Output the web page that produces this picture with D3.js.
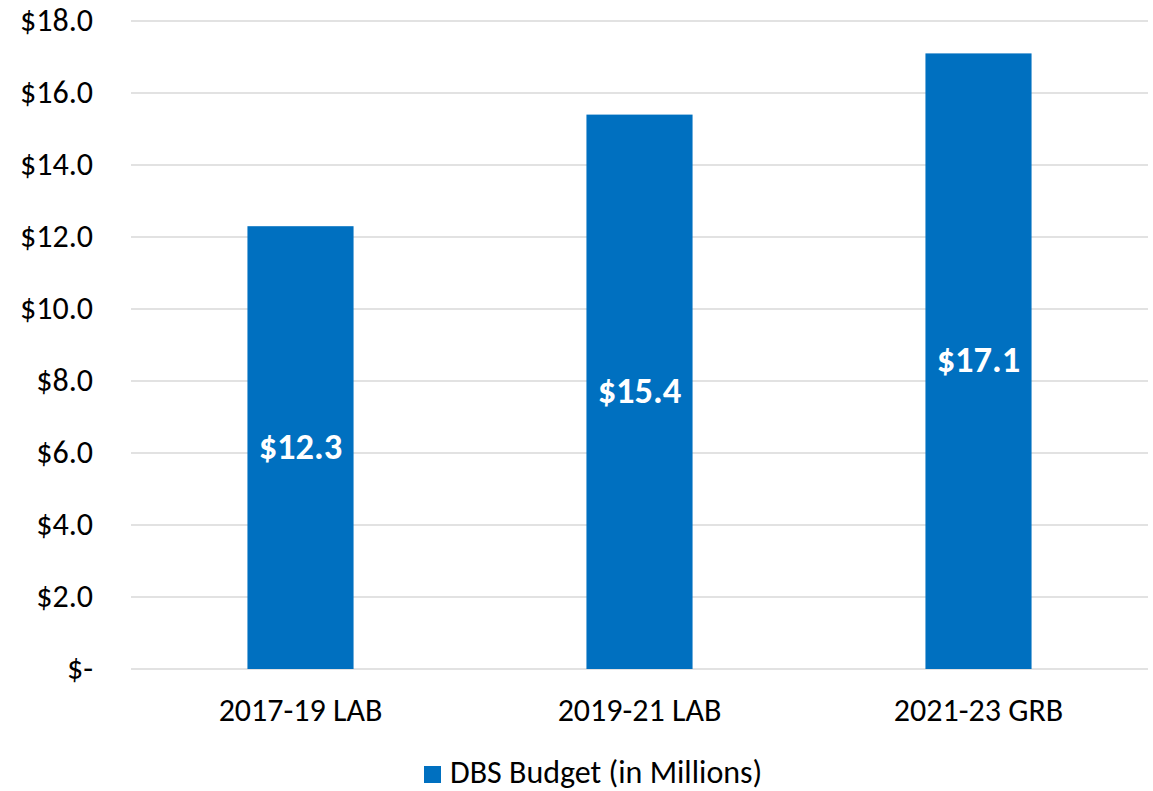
<!DOCTYPE html>
<html>
<head>
<meta charset="utf-8">
<script src="https://cdn.jsdelivr.net/npm/d3@7"></script>
<style>
  body { margin: 0; background: #fff; }
  text { font-family: Carlito, Calibri, Lato, sans-serif; }
</style>
</head>
<body>
<script>
const width = 1153;
const height = 791;

const categories = ["2017-19 LAB", "2019-21 LAB", "2021-23 GRB"];
const budget = [12.3, 15.4, 17.1];
const yTicks = [0, 2, 4, 6, 8, 10, 12, 14, 16, 18];
const seriesName = "DBS Budget (in Millions)";
const barColor = "#0070c0";

const svg = d3.select("body")
    .append("svg")
    .attr("width", width)
    .attr("height", height);

const xScale = d3.scaleBand()
    .domain(categories)
    .range([131, 1148])
    .padding(0);

const yScale = d3.scaleLinear()
    .domain([0, 18])
    .range([669, 21]);

const barWidth = xScale.bandwidth() * 0.313;

// gridlines
svg.append("g")
    .selectAll("line")
    .data(yTicks)
    .enter()
    .append("line")
    .attr("x1", 131)
    .attr("x2", 1148)
    .attr("y1", d => yScale(d))
    .attr("y2", d => yScale(d))
    .attr("stroke", "#d9d9d9")
    .attr("stroke-width", 1.5);

// y labels
svg.append("g")
    .selectAll("text")
    .data(yTicks)
    .enter()
    .append("text")
    .attr("x", 93)
    .attr("y", d => yScale(d) + 10)
    .attr("text-anchor", "end")
    .attr("font-size", 32)
    .attr("fill", "#000")
    .text(d => d === 0 ? "$-" : "$" + d.toFixed(1));

// bars
svg.append("g")
    .selectAll("rect")
    .data(budget)
    .enter()
    .append("rect")
    .attr("x", (d, i) => xScale(categories[i]) + xScale.bandwidth() / 2 - barWidth / 2)
    .attr("y", d => yScale(d))
    .attr("width", barWidth)
    .attr("height", d => yScale(0) - yScale(d))
    .attr("fill", barColor);

// value labels
svg.append("g")
    .selectAll("text")
    .data(budget)
    .enter()
    .append("text")
    .attr("x", (d, i) => xScale(categories[i]) + xScale.bandwidth() / 2)
    .attr("y", d => (yScale(d) + yScale(0)) / 2 + 11)
    .attr("text-anchor", "middle")
    .attr("font-size", 36.5)
    .attr("font-weight", "bold")
    .attr("fill", "#fff")
    .text(d => "$" + d.toFixed(1));

// category labels
svg.append("g")
    .selectAll("text")
    .data(categories)
    .enter()
    .append("text")
    .attr("x", d => xScale(d) + xScale.bandwidth() / 2)
    .attr("y", 721)
    .attr("text-anchor", "middle")
    .attr("font-size", 32)
    .attr("fill", "#000")
    .text(d => d);

// legend
const legend = svg.append("g")
    .attr("transform", "translate(424, 766)");

legend.append("rect")
    .attr("width", 17)
    .attr("height", 17)
    .attr("fill", barColor);

legend.append("text")
    .attr("x", 26)
    .attr("y", 17)
    .attr("font-size", 32)
    .attr("fill", "#000")
    .text(seriesName);
</script>
</body>
</html>
